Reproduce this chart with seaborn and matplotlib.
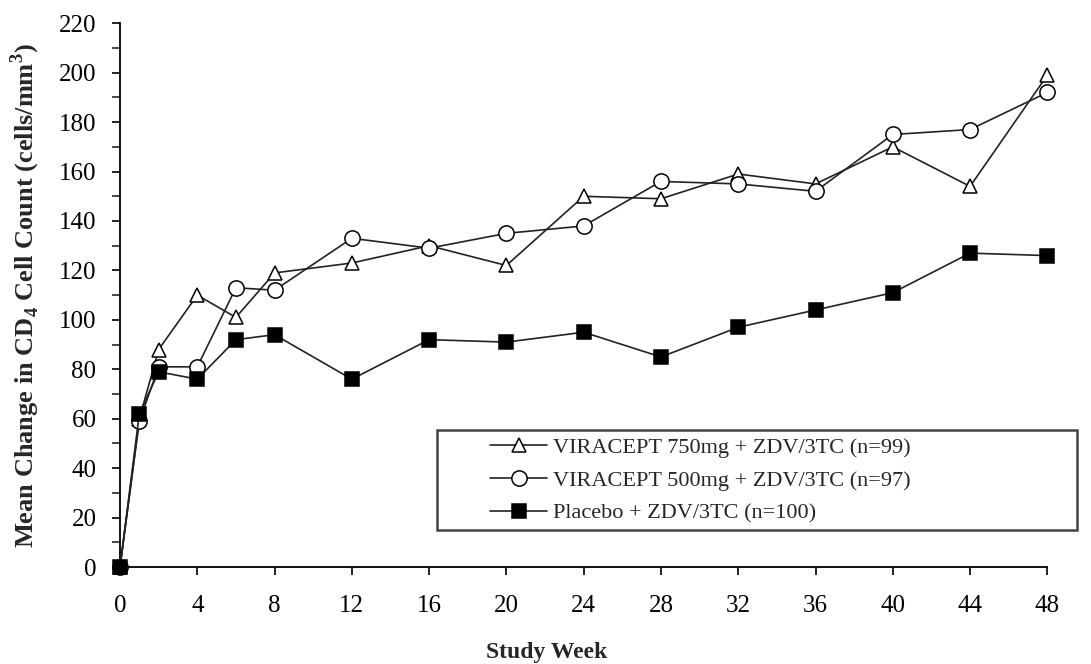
import matplotlib
matplotlib.use("Agg")
import matplotlib.pyplot as plt
import matplotlib.patches as mpatches
import seaborn as sns
import pandas as pd
from matplotlib.ticker import MultipleLocator

weeks = [0, 1, 2, 4, 6, 8, 12, 16, 20, 24, 28, 32, 36, 40, 44, 48]
viracept_750 = [0, 60, 88, 110, 101, 119, 123, 130, 122, 150, 149, 159, 155, 170, 154, 199]
viracept_500 = [0, 59, 81, 81, 113, 112, 133, 129, 135, 138, 156, 155, 152, 175, 177, 192]
placebo = [0, 62, 79, 76, 92, 94, 76, 92, 91, 95, 85, 97, 104, 111, 127, 126]
labels = ["VIRACEPT 750mg + ZDV/3TC (n=99)",
          "VIRACEPT 500mg + ZDV/3TC (n=97)",
          "Placebo + ZDV/3TC (n=100)"]
x_ticks = list(range(0, 49, 4))
y_ticks = list(range(0, 221, 20))

df = pd.DataFrame({
    "week": weeks * 3,
    "value": viracept_750 + viracept_500 + placebo,
    "group": [labels[0]] * len(weeks) + [labels[1]] * len(weeks) + [labels[2]] * len(weeks),
})

sns.set_theme(style="ticks")
plt.rcParams["font.family"] = ["Liberation Serif", "DejaVu Serif"]
plt.rcParams["mathtext.fontset"] = "custom"
plt.rcParams["mathtext.rm"] = "Liberation Serif"
plt.rcParams["mathtext.bf"] = "Liberation Serif:bold"

fig = plt.figure(figsize=(10.91, 6.64), dpi=100)
ax = fig.add_axes([0.110, 0.146, 0.850, 0.819])

styles = {
    labels[0]: dict(marker="^", mfc="white", mec="black", ms=10),
    labels[1]: dict(marker="o", mfc="white", mec="black", ms=11),
    labels[2]: dict(marker="s", mfc="black", mec="black", ms=10),
}
for lab in labels:
    sub = df[df["group"] == lab]
    sns.lineplot(data=sub, x="week", y="value", ax=ax, color="#222222", lw=1.2,
                 label=lab, clip_on=False, zorder=3, mew=1.1, **styles[lab])

ax.set_xlim(0, 48)
ax.set_ylim(0, 220)
ax.set_xticks(x_ticks)
ax.set_yticks(y_ticks)
ax.yaxis.set_minor_locator(MultipleLocator(10))
for s in ["top", "right"]:
    ax.spines[s].set_visible(False)
for s in ["left", "bottom"]:
    ax.spines[s].set_color("black")
    ax.spines[s].set_linewidth(1.3)
ax.tick_params(axis="both", which="major", direction="out", length=6, width=1.2,
               labelsize=18, colors="black")
ax.tick_params(axis="y", which="minor", direction="out", length=6, width=1.2)
ax.tick_params(axis="x", which="major", pad=14)
ax.tick_params(axis="y", which="major", pad=11)
ax.set_xlabel("Study Week", fontsize=17, fontweight="bold")
ax.set_ylabel(r"Mean Change in CD$_\mathbf{4}$ Cell Count (cells/mm$^\mathbf{3}$)",
              fontsize=19, fontweight="bold")
ax.xaxis.set_label_coords(0.46, -0.137)
ax.yaxis.set_label_coords(-0.084, 0.5)

# legend frame (drawn separately to match the wide box of the original)
frame = mpatches.Rectangle((0.342, 0.068), 0.690, 0.184, transform=ax.transAxes,
                           facecolor="white", edgecolor="#444444", lw=1.8,
                           clip_on=False, zorder=4)
ax.add_patch(frame)
leg = ax.legend(loc="upper left", bbox_to_anchor=(0.399, 0.239), fontsize=16,
                frameon=False, handlelength=2.57, borderpad=0, borderaxespad=0,
                labelspacing=0.56, handletextpad=0.27)
leg.set_zorder(5)

fig.savefig("out.png", dpi=100, facecolor="white")
